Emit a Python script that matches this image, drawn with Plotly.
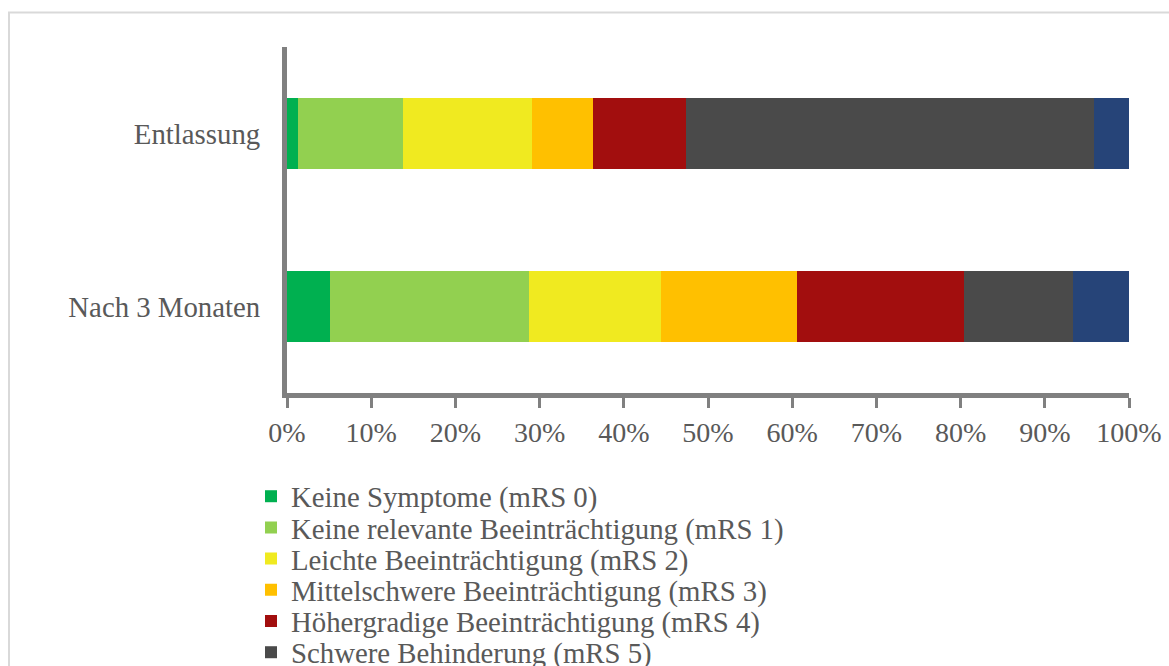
import plotly.graph_objects as go

# mRS distribution at discharge and after 3 months (percent of patients)
categories = ["Nach 3 Monaten", "Entlassung"]
series_names = [
    "Keine Symptome (mRS 0)",
    "Keine relevante Beeinträchtigung (mRS 1)",
    "Leichte Beeinträchtigung (mRS 2)",
    "Mittelschwere Beeinträchtigung (mRS 3)",
    "Höhergradige Beeinträchtigung (mRS 4)",
    "Schwere Behinderung (mRS 5)",
    "Verstorben (mRS 6)",
]
nach_3_monaten = [5.1, 23.6, 15.7, 16.2, 19.8, 12.9, 6.7]
entlassung = [1.3, 12.5, 15.3, 7.2, 11.1, 48.4, 4.2]
tick_values = [0, 10, 20, 30, 40, 50, 60, 70, 80, 90, 100]
tick_labels = [f"{v}%" for v in tick_values]

colors = ["#00B050", "#92D050", "#F0EA20", "#FFC000", "#A20E0E", "#4A4A4A", "#264478"]

W, H = 1169, 760
PLOT_L, PLOT_R, PLOT_T, PLOT_B = 287, 1129, 47, 393
PW, PH = PLOT_R - PLOT_L, PLOT_B - PLOT_T

FONT = "Liberation Serif, Times New Roman, serif"
TEXT_COLOR = "#595959"
AXIS_COLOR = "#808080"


def px_to_paper_x(px):
    return (px - PLOT_L) / PW


def px_to_paper_y(py):
    return (PLOT_B - py) / PH


fig = go.Figure()

legend_first_center = 496.5
legend_step = 31.2
layout_legends = {}
for i, name in enumerate(series_names):
    key = "legend" if i == 0 else f"legend{i + 1}"
    fig.add_trace(
        go.Bar(
            y=categories,
            x=[nach_3_monaten[i], entlassung[i]],
            name=name,
            orientation="h",
            width=0.405,
            marker=dict(color=colors[i], line=dict(width=0)),
            legend=key,
        )
    )
    layout_legends[key] = dict(
        x=px_to_paper_x(251),
        xanchor="left",
        y=px_to_paper_y(legend_first_center + i * legend_step),
        yanchor="middle",
        bgcolor="rgba(0,0,0,0)",
        borderwidth=0,
        font=dict(family=FONT, size=28.8, color=TEXT_COLOR),
    )

fig.update_layout(
    width=W,
    height=H,
    margin=dict(l=PLOT_L, r=W - PLOT_R, t=PLOT_T, b=H - PLOT_B, pad=0, autoexpand=False),
    barmode="stack",
    plot_bgcolor="white",
    paper_bgcolor="white",
    showlegend=True,
    **layout_legends,
    xaxis=dict(
        range=[0, 100],
        tickvals=tick_values,
        ticktext=tick_labels,
        ticks="outside",
        ticklen=10,
        tickwidth=3,
        tickcolor=AXIS_COLOR,
        showline=True,
        linewidth=5,
        linecolor=AXIS_COLOR,
        showgrid=False,
        zeroline=False,
        automargin=False,
        fixedrange=True,
        tickfont=dict(family=FONT, size=28, color=TEXT_COLOR),
    ),
    xaxis2=dict(
        overlaying="x",
        matches="x",
        anchor="y",
        side="bottom",
        range=[0, 100],
        tickvals=tick_values,
        ticks="inside",
        ticklen=8,
        tickwidth=3,
        tickcolor=AXIS_COLOR,
        showticklabels=False,
        showline=False,
        showgrid=False,
        zeroline=False,
        automargin=False,
    ),
    yaxis=dict(
        categoryorder="array",
        categoryarray=categories,
        range=[-0.5, 1.5],
        showline=True,
        linewidth=5,
        linecolor=AXIS_COLOR,
        ticks="",
        showgrid=False,
        zeroline=False,
        automargin=False,
        ticklabelstandoff=16,
        tickfont=dict(family=FONT, size=28.8, color=TEXT_COLOR),
    ),
    shapes=[
        dict(
            type="rect",
            xref="paper",
            yref="paper",
            x0=px_to_paper_x(9),
            x1=px_to_paper_x(1200),
            y0=px_to_paper_y(1200),
            y1=px_to_paper_y(12.5),
            line=dict(color="#D9D9D9", width=2),
            fillcolor="rgba(0,0,0,0)",
            layer="below",
        )
    ],
)

fig.write_html(
    "out.html",
    config={"displayModeBar": False},
    post_script="document.body.style.overflow='hidden';document.documentElement.style.overflow='hidden';",
)
